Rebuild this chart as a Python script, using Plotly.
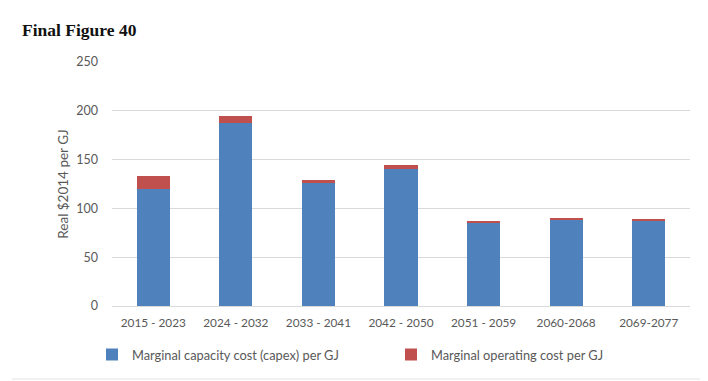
import plotly.graph_objects as go

categories = ["2015 - 2023", "2024 - 2032", "2033 - 2041", "2042 - 2050",
              "2051 - 2059", "2060-2068", "2069-2077"]
capex = [120, 188, 126, 140.5, 85, 88.5, 87.5]
opex = [13.5, 6.5, 3.5, 3.7, 2.2, 1.2, 1.1]

FONT = "Lato, Open Sans, Liberation Sans, sans-serif"
GRAY = "#595959"

fig = go.Figure()
fig.add_trace(go.Bar(x=categories, y=capex, name="Marginal capacity cost (capex) per GJ",
                     marker=dict(color="#4F81BD", line=dict(width=0))))
fig.add_trace(go.Bar(x=categories, y=opex, name="Marginal operating cost per GJ",
                     marker=dict(color="#C0504D", line=dict(width=0))))

fig.update_layout(
    barmode="stack",
    bargap=0.6,
    width=708, height=381,
    margin=dict(l=104, r=26, t=54, b=83, autoexpand=False),
    paper_bgcolor="white", plot_bgcolor="white",
    font=dict(family=FONT, size=12, color=GRAY),
    title=dict(text="<b>Final Figure 40</b>", x=14/708, xref="container", xanchor="left",
               y=1 - 22/381, yref="container", yanchor="middle",
               font=dict(family="Liberation Serif, Times New Roman, serif", size=17.5, color="#111111")),
    showlegend=True,
    legend=dict(orientation="h", x=(92 - 112) / 578, xanchor="left", y=-0.2, yanchor="middle",
                entrywidth=254, entrywidthmode="pixels",
                font=dict(family=FONT, size=12.8, color=GRAY), traceorder="normal",
                itemwidth=30),
    xaxis=dict(showline=True, linecolor="#D9D9D9", linewidth=1, ticks="", automargin=False,
               ticklabelstandoff=6,
               tickfont=dict(family=FONT, size=11.8, color=GRAY), fixedrange=True),
    yaxis=dict(range=[0, 250], dtick=50, showgrid=True, gridcolor="#D9D9D9", gridwidth=1,
               zeroline=False, showline=False, ticks="", ticklabelstandoff=13, automargin=False,
               title=dict(text="Real $2014 per GJ", font=dict(family=FONT, size=13.5, color=GRAY), standoff=4),
               tickfont=dict(family=FONT, size=12.5, color=GRAY)),
    shapes=[
        dict(type="line", xref="paper", yref="paper",
             x0=(702 - 112) / 578, x1=(702 - 112) / 578,
             y0=(306 - 379) / 244, y1=(306 - 30) / 244,
             line=dict(color="#E3E3E3", width=1)),
        dict(type="line", xref="paper", yref="paper",
             x0=(12 - 112) / 578, x1=(702 - 112) / 578,
             y0=(306 - 379) / 244, y1=(306 - 379) / 244,
             line=dict(color="#E3E3E3", width=1)),
    ]
)

fig.write_html("out.html")
